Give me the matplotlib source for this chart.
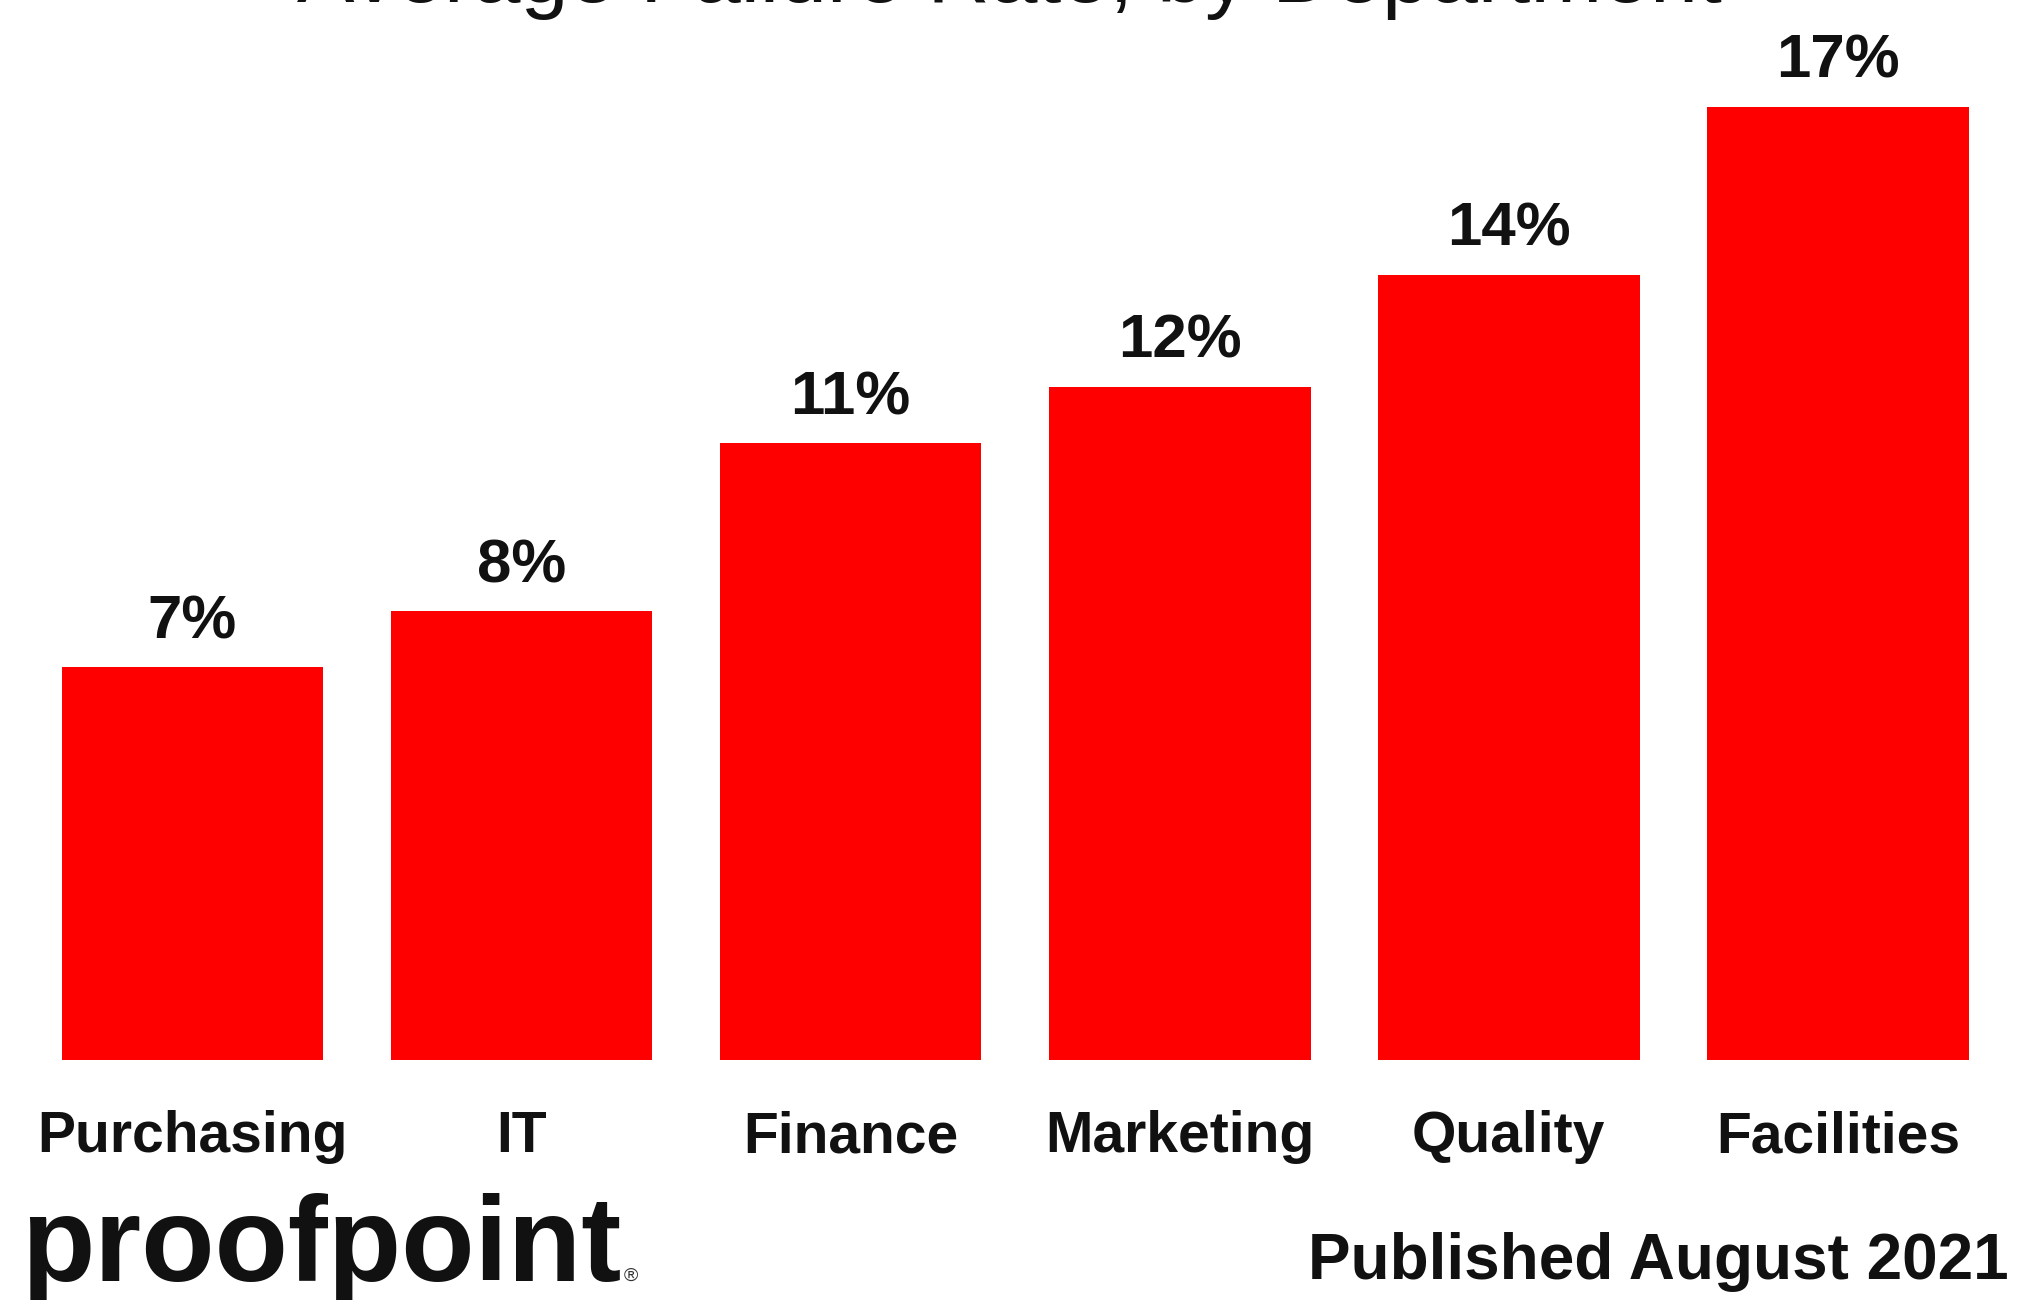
import matplotlib
matplotlib.use("Agg")
import matplotlib.pyplot as plt

# Phish failure rate per department (percent)
departments = ["Purchasing", "IT", "Finance", "Marketing", "Quality", "Facilities"]
failure_rate = [7, 8, 11, 12, 14, 17]

title = "Average Failure Rate, by Department"
footer = "Published August 2021"
logo = "proofpoint"

plt.rcParams["font.family"] = ["Liberation Sans", "DejaVu Sans"]

fig = plt.figure(figsize=(20.19, 13), dpi=100)
ax = fig.add_axes([0.0138, 0.1846, 0.978, 0.798])

x = list(range(len(departments)))
bars = ax.bar(x, failure_rate, width=0.795, color="#fe0000")

ax.set_xlim(-0.5, len(departments) - 0.5)
ax.set_ylim(0, 18.5)
ax.axis("off")

# value labels above each bar
for rect, val in zip(bars, failure_rate):
    ax.annotate(f"{val}%", (rect.get_x() + rect.get_width() / 2, val),
                xytext=(0, 21), textcoords="offset points",
                ha="center", va="baseline", fontsize=44.5, fontweight="bold",
                color="#111111")

# department names under the bars
for i, name in enumerate(departments):
    ax.text(i, -0.0887, name, transform=ax.get_xaxis_transform(),
            ha="center", va="baseline", fontsize=41, fontweight="bold",
            color="#111111")

# title sits almost entirely above the top edge of the canvas
fig.text(0.5, 0.9985, title, ha="center", va="baseline", fontsize=62,
         color="#111111")

fig.text(0.995, 0.0162, footer, ha="right", va="baseline", fontsize=46,
         fontweight="bold", color="#111111")

fig.text(0.0105, 0.0146, logo, ha="left", va="baseline",
         fontsize=86.5, fontweight="bold", color="#111111")
fig.text(0.309, 0.0146, "\u00ae", ha="left", va="baseline", fontsize=14,
         color="#333333")

fig.savefig("out.png", dpi=100, facecolor="white")
